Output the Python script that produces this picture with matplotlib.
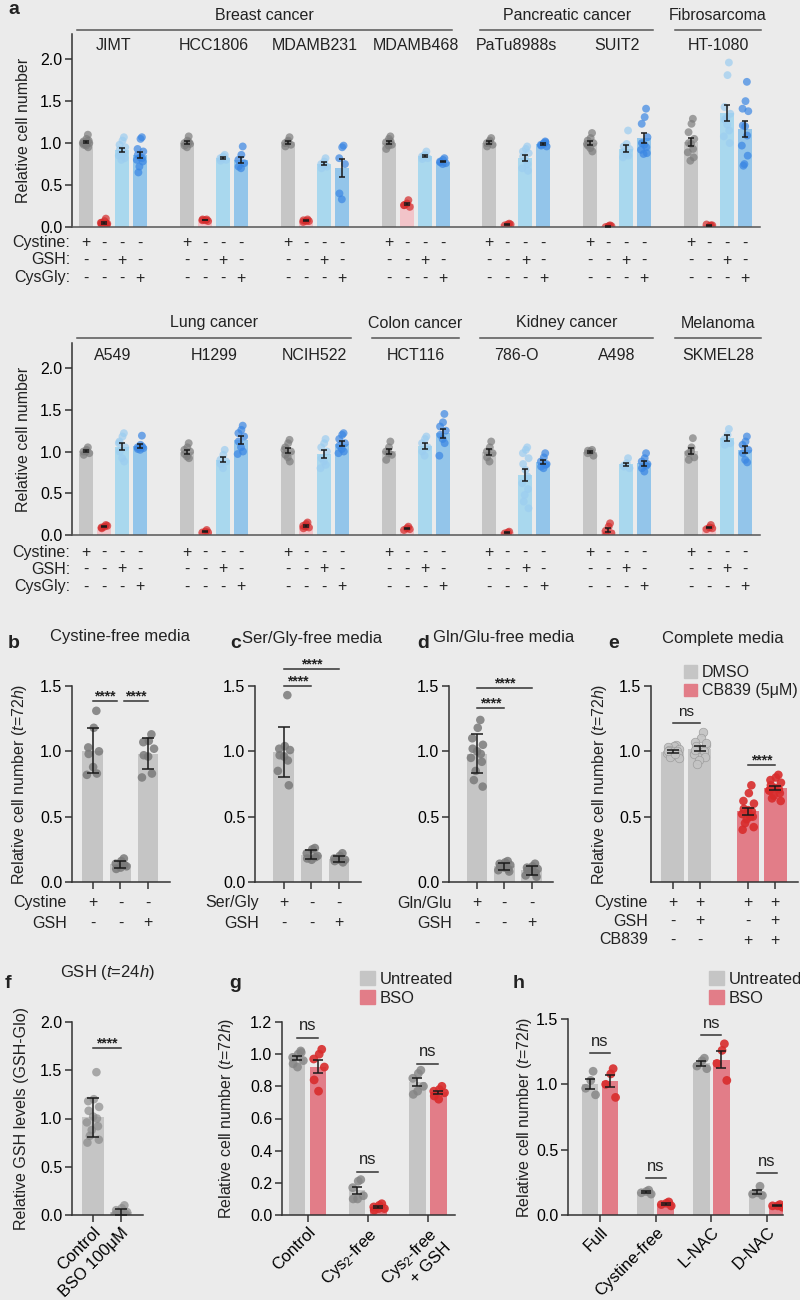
import numpy as np
import matplotlib
matplotlib.use("Agg")
import matplotlib.pyplot as plt
from matplotlib.patches import Patch
from matplotlib.ticker import FormatStrFormatter

plt.rcParams['font.family'] = ['Liberation Sans', 'DejaVu Sans']
plt.rcParams['mathtext.fontset'] = 'custom'
plt.rcParams['mathtext.rm'] = 'Liberation Sans'
plt.rcParams['mathtext.it'] = 'Liberation Sans:italic'
plt.rcParams['font.size'] = 11
plt.rcParams['text.color'] = '#222222'
plt.rcParams['axes.labelcolor'] = '#222222'

# ---------------- data: panel a, row 1 ----------------
row1_names = ["JIMT", "HCC1806", "MDAMB231", "MDAMB468", "PaTu8988s", "SUIT2", "HT-1080"]
row1_cats = ["Breast cancer", "Pancreatic cancer", "Fibrosarcoma"]
row1_spans = [(0, 3), (4, 5), (6, 6)]
row1_ctrl = [[1.10, 1.05, 1.02, 1.0, 0.98, 0.97, 0.95, 1.0, 1.03, 0.99],
             [1.08, 1.03, 1.0, 0.99, 0.97, 0.95, 1.01],
             [1.07, 1.03, 1.0, 0.98, 0.96, 1.01],
             [1.08, 1.05, 1.01, 0.98, 0.93, 0.97, 1.02],
             [1.06, 1.03, 1.0, 0.98, 0.96, 1.01],
             [1.12, 1.06, 1.03, 1.0, 0.97, 0.94, 0.9, 0.99],
             [1.29, 1.23, 1.13, 1.05, 1.0, 0.99, 0.93, 0.89, 0.83, 0.79]]
row1_nocys = [[0.10, 0.07, 0.05, 0.04, 0.03, 0.02, 0.04, 0.05, 0.03],
              [0.09, 0.08, 0.08, 0.07, 0.09],
              [0.09, 0.07, 0.06, 0.07, 0.08],
              [0.32, 0.28, 0.26, 0.24, 0.26],
              [0.04, 0.03, 0.02, 0.03],
              [0.02, 0.01, 0.0, 0.01],
              [0.02, 0.01, 0.03, 0.02]]
row1_gsh = [[1.07, 1.03, 0.98, 0.95, 0.92, 0.9, 0.88, 0.85, 0.82, 0.8, 0.87],
            [0.86, 0.84, 0.82, 0.80, 0.79, 0.83],
            [0.82, 0.78, 0.75, 0.72, 0.70, 0.74],
            [0.90, 0.86, 0.84, 0.82, 0.81, 0.85],
            [0.96, 0.93, 0.9, 0.88, 0.84, 0.8, 0.75, 0.7, 0.67],
            [1.15, 0.99, 0.96, 0.93, 0.9, 0.87, 0.85, 0.83],
            [1.96, 1.81, 1.43, 1.35, 1.28, 1.22, 1.15, 1.08, 1.0, 1.3]]
row1_cysgly = [[1.07, 1.05, 0.93, 0.9, 0.86, 0.83, 0.82, 0.8, 0.78, 0.72, 0.65],
               [0.96, 0.86, 0.8, 0.76, 0.72, 0.70],
               [0.97, 0.95, 0.82, 0.75, 0.40, 0.33],
               [0.82, 0.80, 0.78, 0.76, 0.77, 0.75],
               [1.02, 1.0, 0.98, 0.96, 0.97, 0.99, 1.01],
               [1.41, 1.31, 1.23, 1.07, 1.0, 0.98, 0.95, 0.92, 0.88, 0.87],
               [1.73, 1.50, 1.41, 1.38, 1.21, 1.2, 1.09, 0.97, 0.85, 0.75, 0.73]]

# ---------------- data: panel a, row 2 ----------------
row2_names = ["A549", "H1299", "NCIH522", "HCT116", "786-O", "A498", "SKMEL28"]
row2_cats = ["Lung cancer", "Colon cancer", "Kidney cancer", "Melanoma"]
row2_spans = [(0, 2), (3, 3), (4, 5), (6, 6)]
row2_ctrl = [[1.05, 1.02, 1.0, 0.98, 0.96, 1.0],
             [1.1, 1.05, 1.02, 1.0, 0.97, 0.94, 0.92],
             [1.14, 1.1, 1.05, 1.0, 0.96, 0.93, 0.88, 1.02],
             [1.12, 1.05, 1.0, 0.96, 0.9, 0.98],
             [1.12, 1.05, 1.0, 0.98, 0.93, 0.88],
             [1.02, 1.0, 0.98, 0.95, 1.01],
             [1.16, 1.05, 0.98, 0.93, 0.9, 1.0]]
row2_nocys = [[0.12, 0.10, 0.09, 0.11, 0.08],
              [0.06, 0.04, 0.03, 0.03],
              [0.15, 0.13, 0.11, 0.09, 0.08, 0.1],
              [0.1, 0.08, 0.06, 0.07],
              [0.04, 0.03, 0.02],
              [0.14, 0.10, 0.05, 0.02, 0.0],
              [0.12, 0.09, 0.07, 0.08]]
row2_gsh = [[1.22, 1.18, 1.12, 1.05, 1.0, 0.92, 0.88, 1.1],
            [1.02, 0.96, 0.90, 0.88, 0.85, 0.80],
            [1.15, 1.1, 1.05, 1.0, 0.92, 0.88, 0.84, 0.8],
            [1.18, 1.15, 1.1, 1.05, 1.0, 0.95],
            [1.05, 1.02, 0.98, 0.92, 0.85, 0.78, 0.7, 0.62, 0.55, 0.48, 0.4, 0.32],
            [0.92, 0.86, 0.83, 0.8, 0.82],
            [1.27, 1.2, 1.15, 1.1, 1.08]]
row2_cysgly = [[1.19, 1.08, 1.05, 1.04, 1.03, 1.02, 1.06],
               [1.31, 1.26, 1.22, 1.18, 1.12, 1.05, 1.0, 0.97],
               [1.22, 1.2, 1.15, 1.1, 1.07, 1.03, 1.0, 0.98],
               [1.45, 1.35, 1.3, 1.25, 1.2, 1.15, 1.1, 0.95],
               [0.98, 0.93, 0.88, 0.85, 0.82, 0.8, 0.84],
               [0.98, 0.92, 0.88, 0.85, 0.8, 0.76, 0.83],
               [1.18, 1.12, 1.08, 1.02, 0.98, 0.9, 0.87]]

cond_labels = ["Cystine:", "GSH:", "CysGly:"]
cond_signs = ["+---", "--+-", "---+"]

# ---------------- data: panels b-d ----------------
b_vals = [[1.31, 1.18, 1.03, 1.0, 0.98, 0.88, 0.83, 0.82],
          [0.18, 0.16, 0.14, 0.12, 0.10, 0.11, 0.13],
          [1.13, 1.08, 1.07, 1.02, 0.97, 0.96, 0.83, 0.80]]
b_rows = [("Cystine", "+--"), ("GSH", "--+")]
c_vals = [[1.43, 1.04, 1.02, 1.01, 0.97, 0.96, 0.93, 0.85, 0.74],
          [0.26, 0.25, 0.22, 0.2, 0.18, 0.17, 0.19],
          [0.22, 0.2, 0.18, 0.17, 0.16, 0.17, 0.15]]
c_rows = [("Ser/Gly", "+--"), ("GSH", "--+")]
d_vals = [[1.24, 1.18, 1.1, 1.05, 1.02, 1.0, 0.98, 0.95, 0.92, 0.85, 0.78, 0.73],
          [0.16, 0.15, 0.14, 0.13, 0.12, 0.11, 0.1, 0.09, 0.08],
          [0.14, 0.12, 0.11, 0.1, 0.09, 0.08, 0.07, 0.05, 0.04]]
d_rows = [("Gln/Glu", "+--"), ("GSH", "--+")]

# ---------------- data: panel e ----------------
e_vals = [[1.05, 1.04, 1.03, 1.02, 1.01, 1.0, 1.0, 0.99, 0.98, 0.97, 0.96, 0.95, 1.0, 0.98],
          [1.15, 1.1, 1.07, 1.05, 1.04, 1.02, 1.0, 0.98, 0.96, 0.93, 0.9, 1.06, 1.01],
          [0.74, 0.68, 0.62, 0.6, 0.56, 0.55, 0.54, 0.52, 0.5, 0.48, 0.45, 0.42, 0.4, 0.5],
          [0.82, 0.8, 0.78, 0.76, 0.74, 0.72, 0.71, 0.7, 0.68, 0.66, 0.64, 0.62, 0.7]]
e_rows = [("Cystine", "++++"), ("GSH", "-+-+"), ("CB839", "--++")]
e_legend = ["DMSO", "CB839 (5μM)"]

# ---------------- data: panel f ----------------
f_labels = ["Control", "BSO 100μM"]
f_vals = [[1.48, 1.2, 1.18, 1.12, 1.08, 1.02, 1.0, 0.96, 0.92, 0.88, 0.82, 0.78, 0.75],
          [0.1, 0.07, 0.05, 0.03, 0.02, 0.01, 0.0, 0.0, 0.01, 0.02]]

# ---------------- data: panel g ----------------
g_labels = ["Control", "Cys$_2$-free", "Cys$_2$-free\n+ GSH"]
g_untreated = [[1.02, 1.0, 0.98, 0.96, 0.94, 0.92, 1.01],
               [0.22, 0.21, 0.17, 0.12, 0.1, 0.1],
               [0.9, 0.88, 0.85, 0.8, 0.75, 0.77]]
g_bso = [[1.03, 1.0, 0.97, 0.92, 0.84, 0.77],
         [0.07, 0.06, 0.05, 0.04, 0.03, 0.04],
         [0.8, 0.78, 0.77, 0.76, 0.74, 0.72]]
g_ns = [1.10, 0.27, 0.94]

# ---------------- data: panel h ----------------
h_labels = ["Full", "Cystine-free", "L-NAC", "D-NAC"]
h_untreated = [[1.1, 1.03, 0.97, 0.92],
               [0.19, 0.18, 0.17, 0.16],
               [1.2, 1.18, 1.14, 1.12],
               [0.22, 0.17, 0.16, 0.15]]
h_bso = [[1.12, 1.08, 1.0, 0.9],
         [0.1, 0.09, 0.08, 0.07],
         [1.31, 1.26, 1.16, 1.03],
         [0.08, 0.07, 0.07, 0.06]]
h_ns = [1.24, 0.28, 1.38, 0.32]
legend_bso = ["Untreated", "BSO"]

# ---------------- style ----------------
BG = '#ebebeb'
A_BAR = ['#c6c6c6', '#f2c4c9', '#a9d8ee', '#93c5ea']
A_DOT = ['#7c7c7c', '#d42a2a', '#9ccdf0', '#3a86e3']
GRAY_BAR = '#c5c5c5'
GRAY_DOT = '#7a7a7a'
RED_BAR = '#e27d88'
RED_DOT = '#d82c2c'
W, H = 800, 1300
GP = 5.6

fig = plt.figure(figsize=(8, 13), dpi=100, facecolor=BG)


def box(l, t, r, b):
    ax = fig.add_axes([l / W, 1 - b / H, (r - l) / W, (b - t) / H])
    ax.set_facecolor('none')
    for s in ['top', 'right']:
        ax.spines[s].set_visible(False)
    for s in ['left', 'bottom']:
        ax.spines[s].set_color('#333333')
        ax.spines[s].set_linewidth(1.1)
    ax.tick_params(length=5, width=1.1, labelsize=11.5, pad=2, color='#333333')
    ax.yaxis.set_major_formatter(FormatStrFormatter('%.1f'))
    return ax


def fy(ax, py):
    bb = ax.get_position()
    top = (1 - bb.y1) * H
    bot = (1 - bb.y0) * H
    return (bot - py) / (bot - top)


def ftext(px, py, s, **kw):
    fig.text(px / W, 1 - py / H, s, **kw)


def spread(n, w):
    return w * np.sin(np.arange(n) * 2.4 + 0.6)


def dots_bar(ax, x, v, width, bc, dc, err, s=38, jw=0.22, alpha=0.85, cap=4, ec='none'):
    v = np.array(v)
    m = v.mean()
    e = v.std(ddof=1)
    if err == 'sem':
        e = e / np.sqrt(len(v))
    ax.bar(x, m, width, color=bc, zorder=1)
    ax.scatter(x + spread(len(v), jw), v, s=s, color=dc, alpha=alpha, lw=0.5 if ec != 'none' else 0,
               edgecolors=ec, zorder=2)
    ax.errorbar(x, m, yerr=e, color='#1a1a1a', capsize=cap, lw=1.1, capthick=1.1, zorder=3)


def sig(ax, x1, x2, y, txt, size=11):
    ax.plot([x1, x2], [y, y], color='#333333', lw=1.1, clip_on=False)
    if txt == 'ns':
        ax.text((x1 + x2) / 2, y + 0.03, txt, ha='center', va='bottom', fontsize=size)
    else:
        ax.text((x1 + x2) / 2, y - 0.02, txt, ha='center', va='bottom', fontsize=size, fontweight='bold')


def panel_a(box_px, names, cats, spans, ctrl, nocys, gsh, cysgly, rows_py, name_py, cat_py, line_py, lab_px):
    ax = box(*box_px)
    conds = [ctrl, nocys, gsh, cysgly]
    for g in range(len(names)):
        for j in range(4):
            dots_bar(ax, g * GP + j, conds[j][g], 0.78, A_BAR[j], A_DOT[j], 'sem',
                     s=32, jw=0.18, alpha=0.7, cap=2.5)
        ax.text(g * GP + 1.5, fy(ax, name_py), names[g], transform=ax.get_xaxis_transform(),
                ha='center', va='center', fontsize=11.5)
        for r in range(3):
            for j in range(4):
                ax.text(g * GP + j, fy(ax, rows_py[r]), cond_signs[r][j], transform=ax.get_xaxis_transform(),
                        ha='center', va='center', fontsize=11.5, clip_on=False)
    for c, (g0, g1) in zip(cats, spans):
        x0 = g0 * GP - 0.5
        x1 = g1 * GP + 3.5
        if g0 == g1:
            x0, x1 = x0 - 0.4, x1 + 0.4
        yl = fy(ax, line_py)
        ax.plot([x0, x1], [yl, yl], transform=ax.get_xaxis_transform(), color='#555555', lw=1.1, clip_on=False)
        ax.text((x0 + x1) / 2, fy(ax, cat_py), c, transform=ax.get_xaxis_transform(),
                ha='center', va='center', fontsize=11.5)
    for r in range(3):
        ftext(lab_px, rows_py[r], cond_labels[r], ha='right', va='center', fontsize=11.5)
    ax.set_xlim(-0.78, 6 * GP + 3.83)
    ax.set_ylim(0, 2.3)
    ax.set_yticks([0, 0.5, 1.0, 1.5, 2.0])
    ax.set_xticks([])
    ax.spines['bottom'].set_color('#555555')
    ax.set_ylabel('Relative cell number', fontsize=11.5)
    ax.yaxis.set_label_coords(-0.059, 0.5)
    return ax


# ---------------- panel a ----------------
panel_a((72, 34, 760, 227), row1_names, row1_cats, row1_spans, row1_ctrl, row1_nocys, row1_gsh, row1_cysgly,
        [243, 260, 278], 46, 15, 30, 70)
panel_a((72, 343, 760, 535), row2_names, row2_cats, row2_spans, row2_ctrl, row2_nocys, row2_gsh, row2_cysgly,
        [552, 569, 587], 355, 323, 338, 70)
ftext(8, 10, 'a', fontsize=14, fontweight='bold', va='center')

YLAB72 = r'Relative cell number ($\it{t}$=72$\it{h}$)'


def simple3(box_px, vals, rows, lab_px, row_py, title, title_px, letter_px, ylabel):
    ax = box(*box_px)
    for i, v in enumerate(vals):
        dots_bar(ax, i, v, 0.76, GRAY_BAR, GRAY_DOT, 'sd')
    ax.set_ylim(0, 1.5)
    ax.set_yticks([0, 0.5, 1.0, 1.5])
    ax.set_xticks([0, 1, 2])
    ax.set_xticklabels([])
    for r, (lab, sg) in enumerate(rows):
        ftext(lab_px, row_py[r], lab, ha='right', va='center', fontsize=11.5)
        for j in range(len(sg)):
            ax.text(j, fy(ax, row_py[r]), sg[j], transform=ax.get_xaxis_transform(),
                    ha='center', va='center', fontsize=11.5)
    ftext(title_px[0], title_px[1], title, ha='center', va='center', fontsize=12)
    ftext(letter_px[0], letter_px[1], letter_px[2], ha='left', va='center', fontsize=14, fontweight='bold')
    if ylabel:
        ax.set_ylabel(YLAB72, fontsize=11.5)
        ax.yaxis.set_label_coords(-0.44, 0.5)
    return ax


# ---------------- panel b ----------------
ax_b = simple3((72, 686, 170, 882), b_vals, b_rows, 67, [903, 923], 'Cystine-free media', (120, 637),
               (8, 643, 'b'), True)
ax_b.set_xlim(-0.76, 2.8)
sig(ax_b, 0, 0.87, 1.385, '****', 10)
sig(ax_b, 1.13, 2, 1.385, '****', 10)

# ---------------- panel c ----------------
ax_c = simple3((255, 686, 361, 882), c_vals, c_rows, 259, [903, 923], 'Ser/Gly-free media', (312, 638),
               (230, 643, 'c'), False)
ax_c.set_xlim(-1.05, 2.8)
sig(ax_c, 0, 2, 1.63, '****', 10)
sig(ax_c, 0, 1, 1.5, '****', 10)

# ---------------- panel d ----------------
ax_d = simple3((449, 686, 553, 882), d_vals, d_rows, 452, [903, 923], 'Gln/Glu-free media', (504, 637),
               (417, 643, 'd'), False)
ax_d.set_xlim(-1.02, 2.78)
sig(ax_d, 0, 2, 1.485, '****', 10)
sig(ax_d, 0, 1, 1.33, '****', 10)

# ---------------- panel e ----------------
ax_e = box(651, 686, 798, 882)
e_x = [0, 1, 2.78, 3.78]
e_bc = [GRAY_BAR, GRAY_BAR, RED_BAR, RED_BAR]
e_dc = ['#c4c4c4', '#c4c4c4', RED_DOT, RED_DOT]
e_ec = ['#9a9a9a', '#9a9a9a', 'none', 'none']
for i in range(4):
    dots_bar(ax_e, e_x[i], e_vals[i], 0.85, e_bc[i], e_dc[i], 'sem', ec=e_ec[i], alpha=0.9)
ax_e.set_xlim(-0.81, 4.63)
ax_e.set_ylim(0, 1.5)
ax_e.set_yticks([0.5, 1.0, 1.5])
ax_e.set_xticks(e_x)
ax_e.set_xticklabels([])
for r, (lab, sg) in enumerate(e_rows):
    py = [903, 921, 940][r]
    ftext(648, py, lab, ha='right', va='center', fontsize=11.5)
    for j in range(4):
        ax_e.text(e_x[j], fy(ax_e, py), sg[j], transform=ax_e.get_xaxis_transform(),
                  ha='center', va='center', fontsize=11.5)
sig(ax_e, 0, 1, 1.22, 'ns', 11)
sig(ax_e, 2.78, 3.78, 0.895, '****', 10)
ax_e.set_ylabel(YLAB72, fontsize=11.5)
ax_e.yaxis.set_label_coords(-0.286, 0.5)
ax_e.legend([Patch(color=GRAY_BAR), Patch(color=RED_BAR)], e_legend, loc='upper left',
            bbox_to_anchor=(684 / W, 1 - 665 / H), bbox_transform=fig.transFigure, frameon=False,
            handlelength=0.8, handleheight=0.8, handletextpad=0.3, labelspacing=0.2,
            borderpad=0, borderaxespad=0, fontsize=11.5)
ftext(723, 639, 'Complete media', ha='center', va='center', fontsize=12)
ftext(608, 643, 'e', ha='left', va='center', fontsize=14, fontweight='bold')

# ---------------- panel f ----------------
ax_f = box(72, 1022, 143, 1215)
for i, v in enumerate(f_vals):
    dots_bar(ax_f, i, v, 0.78, GRAY_BAR, '#8a8a8a', 'sd', alpha=0.7)
ax_f.set_xlim(-0.75, 1.79)
ax_f.set_ylim(0, 2.0)
ax_f.set_yticks([0, 0.5, 1.0, 1.5, 2.0])
ax_f.set_xticks([0, 1])
ax_f.set_xticklabels(f_labels, rotation=45, ha='right', rotation_mode='anchor', fontsize=12)
sig(ax_f, 0, 1, 1.73, '****', 10)
ax_f.set_ylabel('Relative GSH levels (GSH-Glo)', fontsize=11.5)
ax_f.yaxis.set_label_coords(-0.606, 0.5)
ftext(107, 973, r'GSH ($\it{t}$=24$\it{h}$)', ha='center', va='center', fontsize=12)
ftext(5, 983, 'f', ha='left', va='center', fontsize=14, fontweight='bold')


def paired(box_px, unt, bso, labels, ns, ymax, yticks, off, width, xlim, ylab_x, leg_px, letter_px):
    ax = box(*box_px)
    for i in range(len(labels)):
        dots_bar(ax, i - off, unt[i], width, GRAY_BAR, '#848484', 'sem', s=40, jw=0.1, alpha=0.8, cap=3.5)
        dots_bar(ax, i + off, bso[i], width, RED_BAR, RED_DOT, 'sem', s=40, jw=0.1, alpha=0.9, cap=3.5)
        sig(ax, i - off, i + off, ns[i], 'ns', 12)
    ax.set_xlim(*xlim)
    ax.set_ylim(0, ymax)
    ax.set_yticks(yticks)
    ax.set_xticks(range(len(labels)))
    ax.set_xticklabels(labels, rotation=45, ha='right', rotation_mode='anchor', fontsize=12)
    ax.set_ylabel(YLAB72, fontsize=11.5)
    ax.yaxis.set_label_coords(ylab_x, 0.5)
    ax.legend([Patch(color=GRAY_BAR), Patch(color=RED_BAR)], legend_bso, loc='upper left',
              bbox_to_anchor=(leg_px[0] / W, 1 - leg_px[1] / H), bbox_transform=fig.transFigure,
              frameon=False, handlelength=0.9, handleheight=0.9, handletextpad=0.3, labelspacing=0.2,
              borderpad=0, borderaxespad=0, fontsize=12)
    ftext(letter_px[0], letter_px[1], letter_px[2], ha='left', va='center', fontsize=14, fontweight='bold')
    return ax


# ---------------- panel g ----------------
paired((282, 1022, 455, 1215), g_untreated, g_bso, g_labels, g_ns, 1.2, [0, 0.2, 0.4, 0.6, 0.8, 1.0, 1.2],
       0.175, 0.27, (-0.43, 2.45), -0.266, (360, 971), (229, 983, 'g'))

# ---------------- panel h ----------------
paired((568, 1019, 783, 1215), h_untreated, h_bso, h_labels, h_ns, 1.5, [0, 0.5, 1.0, 1.5],
       0.18, 0.3, (-0.575, 3.29), -0.158, (709, 971), (513, 983, 'h'))

fig.savefig('out.png', dpi=100, facecolor=BG)
